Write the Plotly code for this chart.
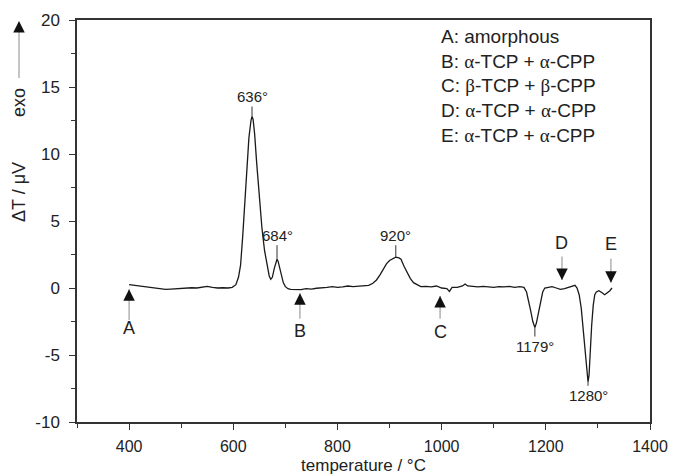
import plotly.graph_objects as go

# ---- data ----
temperature = [400, 410, 420, 430, 440, 450, 460, 470, 480, 490, 500, 510, 520, 530, 540, 550, 560, 570, 580, 590,
               598, 605, 610, 614, 618, 622, 626, 630, 634, 636, 638, 641, 645, 650, 655, 660, 665, 669, 672, 675,
               679, 682, 684, 686, 689, 692, 696, 700, 705, 710, 720, 730, 740, 750, 760, 770, 780, 790, 800, 810,
               820, 830, 840, 850, 860, 868, 875, 882, 888, 894, 900, 906, 912, 918, 922, 928, 934, 940, 946, 952,
               960, 970, 980, 990, 1000, 1010, 1015, 1020, 1030, 1040, 1045, 1050, 1060, 1070, 1080, 1090, 1100,
               1110, 1120, 1130, 1140, 1150, 1158, 1163, 1167, 1171, 1175, 1179, 1182, 1186, 1190, 1194, 1198,
               1205, 1212, 1220, 1228, 1236, 1244, 1250, 1256, 1260, 1264, 1268, 1272, 1276, 1279, 1281, 1283,
               1285, 1288, 1291, 1294, 1297, 1302, 1308, 1313, 1318, 1323, 1327]
dT = [0.25, 0.20, 0.18, 0.15, 0.10, 0.05, -0.05, -0.10, -0.08, -0.05, 0.00, -0.02, 0.02, 0.00, 0.05, 0.12, 0.05, 0.00, 0.02, 0.00,
      0.05, 0.25, 0.8, 1.7, 3.8, 6.5, 9.0, 11.2, 12.5, 12.8, 12.6, 11.5, 9.3, 6.8, 4.5, 2.8, 1.6, 0.9, 0.65, 0.8,
      1.5, 2.0, 2.15, 2.0, 1.5, 0.9, 0.4, 0.1, -0.05, -0.1, -0.1, -0.12, -0.05, -0.08, -0.02, 0.0, 0.05, 0.1, 0.05, 0.08,
      0.15, 0.1, 0.12, 0.15, 0.2, 0.35, 0.6, 1.0, 1.4, 1.8, 2.05, 2.2, 2.3, 2.25, 2.15, 1.6, 1.1, 0.7, 0.4, 0.25,
      0.1, 0.12, 0.08, 0.15, 0.0, -0.05, -0.25, 0.05, 0.05, 0.15, 0.3, 0.15, 0.1, 0.08, 0.12, 0.1, 0.05,
      0.1, 0.08, 0.12, 0.05, 0.1, 0.05, -0.3, -0.9, -1.7, -2.5, -2.95, -2.6, -1.8, -0.9, -0.3, 0.0,
      0.05, 0.1, 0.0, -0.1, -0.05, 0.05, 0.1, 0.2, 0.0, -0.5, -1.5, -3.2, -5.2, -6.6, -7.0, -6.5,
      -4.8, -2.8, -1.3, -0.5, -0.3, -0.2, -0.35, -0.5, -0.35, -0.2, 0.0]

peak_labels = ["636°", "684°", "920°", "1179°", "1280°"]
peak_x = [636, 684, 912, 1179, 1281]

arrow_labels = ["A", "B", "C", "D", "E"]
arrow_x = [400, 728, 997, 1231, 1325]
arrow_tip = [-0.1, -0.4, -0.6, 0.6, 0.4]
arrow_tail = [-2.5, -2.4, -2.4, 2.46, 2.3]
arrow_label_y = [-3.0, -3.2, -3.25, 3.33, 3.3]

phase_lines = ["A: amorphous",
               "B: α-TCP + α-CPP",
               "C: β-TCP + β-CPP",
               "D: α-TCP + α-CPP",
               "E: α-TCP + α-CPP"]

x_ticks = [400, 600, 800, 1000, 1200, 1400]
y_ticks = [-10, -5, 0, 5, 10, 15, 20]
y_tick_text = ["-10", "-5", "0", "5", "10", "15", "20"]

FONT = "Liberation Sans, Arial, sans-serif"
INK = "#222222"

fig = go.Figure()
fig.add_trace(go.Scatter(x=temperature, y=dT, mode="lines",
                         line=dict(color="#1a1a1a", width=1.3),
                         hoverinfo="skip", showlegend=False))

ann = []
# peak labels with short tick lines
peak_offsets = [-20, -24, -22, 19, 14]
for lab, px, off in zip(peak_labels, peak_x, peak_offsets):
    py = dT[temperature.index(px)]
    ann.append(dict(x=px, y=py, xref="x", yref="y", text=lab, showarrow=True,
                    arrowhead=0, arrowwidth=1, arrowcolor="#333333",
                    ax=0, ay=off, font=dict(family=FONT, size=15, color=INK)))

# letter arrows
for lab, ax_, tip, tail, ly in zip(arrow_labels, arrow_x, arrow_tip, arrow_tail, arrow_label_y):
    ann.append(dict(x=ax_, y=tip, xref="x", yref="y", ax=ax_, ay=tail, axref="x", ayref="y",
                    text="", showarrow=True, arrowhead=0, arrowwidth=1, arrowcolor="#8a8a8a"))
    direction = 1 if tail < tip else -1
    ann.append(dict(x=ax_, y=tip, xref="x", yref="y", ax=0, ay=11 * direction,
                    text="", showarrow=True, arrowhead=2, arrowsize=2.3, arrowwidth=1,
                    arrowcolor="#111111", standoff=0))
    ann.append(dict(x=ax_, y=ly, xref="x", yref="y", text=lab, showarrow=False,
                    font=dict(family=FONT, size=18, color=INK)))

# phase description block
def greek(s):
    for g in ("α", "β"):
        s = s.replace(g, "<span style=\"font-family:'Liberation Serif',serif\">" + g + "</span>")
    return s

ann.append(dict(x=0.632, y=0.99, xref="paper", yref="paper", xanchor="left", yanchor="top",
                align="left", showarrow=False, text="<br>".join(greek(t) for t in phase_lines),
                font=dict(family=FONT, size=19, color=INK)))

# y-axis title with exo arrow
ann.append(dict(x=-0.1012, y=0.572, xref="paper", yref="paper", xanchor="center", yanchor="middle",
                text="ΔT / μV", textangle=-90,
                showarrow=False, font=dict(family=FONT, size=18, color=INK)))
ann.append(dict(x=-0.1012, y=0.7935, xref="paper", yref="paper", xanchor="center", yanchor="middle",
                text="exo", textangle=-90,
                showarrow=False, font=dict(family=FONT, size=18, color=INK)))
ann.append(dict(x=-0.1012, y=0.9975, xref="paper", yref="paper", ax=0, ay=11, text="",
                showarrow=True, arrowhead=2, arrowsize=2.3, arrowwidth=1, arrowcolor="#111111", standoff=0))

shapes = [dict(type="line", xref="paper", yref="paper", x0=-0.1012, x1=-0.1012,
               y0=0.8557, y1=0.975, line=dict(color="#8a8a8a", width=1))]

fig.update_layout(
    width=674, height=475,
    margin=dict(l=77, r=24, t=20, b=53),
    paper_bgcolor="white", plot_bgcolor="white",
    font=dict(family=FONT, size=17, color=INK),
    annotations=ann, shapes=shapes, showlegend=False,
    xaxis=dict(range=[300, 1400], tickvals=x_ticks, ticks="outside", ticklen=6, tickwidth=1.2,
               tickcolor="#333333", showline=True, linecolor="#333333", linewidth=1.5, mirror=True,
               showgrid=False, zeroline=False, ticklabelstandoff=3, automargin=False,
               minor=dict(dtick=100, tick0=300, ticks="outside", ticklen=4, tickcolor="#333333", showgrid=False),
               tickfont=dict(family=FONT, size=16, color=INK),
               title=dict(text="temperature / °C", font=dict(family=FONT, size=17, color=INK), standoff=5)),
    yaxis=dict(range=[-10, 20], tickvals=y_ticks, ticktext=y_tick_text, ticks="outside", ticklen=6, tickwidth=1.2,
               tickcolor="#333333", showline=True, linecolor="#333333", linewidth=1.5, mirror=True,
               showgrid=False, zeroline=False, ticklabelstandoff=6, automargin=False,
               minor=dict(dtick=2.5, tick0=0, ticks="outside", ticklen=4, tickcolor="#333333", showgrid=False),
               tickfont=dict(family=FONT, size=17, color=INK)),
)

fig.write_html("out.html", config={"responsive": False, "displayModeBar": False},
               post_script="document.body.style.margin='0';document.body.style.overflow='hidden';")
